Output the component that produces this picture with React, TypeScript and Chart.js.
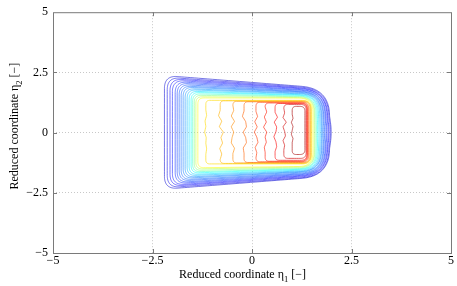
import { useEffect, useRef } from "react";
import { Chart, registerables } from "chart.js";
Chart.register(...registerables);

// ---- axes ----
const tickValues = [-5, -2.5, 0, 2.5, 5];
const tickLabels = ["−5", "−2.5", "0", "2.5", "5"];
const xTitleParts = ["Reduced coordinate η", "1", " [−]"];
const yTitleParts = ["Reduced coordinate η", "2", " [−]"];

// ---- outer band of contours (low levels, blue -> yellow) ----
const bandLevels = [0.08, 0.1, 0.12, 0.14, 0.16, 0.18, 0.2, 0.22, 0.24, 0.26, 0.3, 0.34, 0.38, 0.44, 0.5, 0.56, 0.62];
const bandLeft = [-2.2, -2.13, -2.06, -2.0, -1.93, -1.88, -1.83, -1.78, -1.73, -1.68, -1.63, -1.58, -1.53, -1.49, -1.45, -1.41, -1.36];
const bandRight = [1.95, 1.93, 1.9, 1.88, 1.85, 1.83, 1.8, 1.78, 1.75, 1.73, 1.7, 1.67, 1.64, 1.61, 1.58, 1.56, 1.53];
const bandTopLeft = [2.37, 2.3, 2.24, 2.18, 2.12, 2.06, 2.0, 1.94, 1.89, 1.83, 1.78, 1.72, 1.67, 1.61, 1.55, 1.49, 1.44];
const bandTopRight = [1.83, 1.8, 1.77, 1.75, 1.72, 1.7, 1.67, 1.65, 1.63, 1.6, 1.58, 1.55, 1.53, 1.5, 1.48, 1.45, 1.43];
const bandBottomLeft = [-2.35, -2.29, -2.23, -2.18, -2.12, -2.07, -2.01, -1.96, -1.9, -1.85, -1.79, -1.74, -1.68, -1.63, -1.57, -1.51, -1.46];
const bandBottomRight = [-1.81, -1.79, -1.76, -1.73, -1.71, -1.68, -1.66, -1.63, -1.6, -1.58, -1.56, -1.53, -1.5, -1.48, -1.45, -1.42, -1.4];

// ---- inner contours (high levels, yellow -> dark red) ----
const innerLevels = [0.66, 0.7, 0.74, 0.78, 0.82, 0.85, 0.88, 0.92, 0.96];
const innerLeft = [-1.16, -0.8, -0.48, -0.2, 0.1, 0.33, 0.58, 0.8, 1.01];
const innerRight = [1.49, 1.48, 1.46, 1.43, 1.41, 1.39, 1.38, 1.36, 1.33];
const innerTop = [1.34, 1.32, 1.3, 1.28, 1.26, 1.23, 1.21, 1.17, 1.09];
const innerBottom = [-1.3, -1.28, -1.26, -1.24, -1.21, -1.19, -1.15, -1.07, -0.91];
// left-edge wiggles (x offsets, top -> bottom)
const innerWiggle = [
  [0, 0.02, -0.02, 0, -0.03, 0.01, 0, 0.02, 0],
  [0, -0.04, 0.04, -0.02, 0.08, 0.02, 0.06, -0.01, 0.04],
  [0.02, -0.04, 0.04, -0.04, 0.02, -0.02, -0.04, 0.04, 0],
  [0, -0.04, 0.04, 0.06, -0.02, 0.04, 0.06, -0.02, 0],
  [0, 0.04, -0.03, 0.03, -0.04, 0.02, 0.05, -0.02, 0.02],
  [0.04, -0.02, 0.03, -0.04, 0.04, 0, 0.03, -0.02, 0],
  [0, 0.06, -0.02, 0.04, 0.02, -0.03, 0.02, 0.04, 0],
  [0.02, -0.02, 0.06, -0.02, 0.02, 0.04, -0.02, 0.02, 0],
  [0, 0.02, -0.02, 0.02, 0, -0.02, 0.02, 0, 0],
];

const PXX = 39.8;
const PXY = 24.3;

function jet(t: number, a: number) {
  const c = (v: number) => Math.max(0, Math.min(1, v));
  const r = c(1.5 - Math.abs(4 * t - 3));
  const g = c(1.5 - Math.abs(4 * t - 2));
  const b = c(1.5 - Math.abs(4 * t - 1));
  return `rgba(${Math.round(r * 255)},${Math.round(g * 255)},${Math.round(b * 255)},${a})`;
}

type P = { x: number; y: number };

function shape(L: number, R: number, Tl: number, Tr: number, Bl: number, Br: number, rl: number, rr: number, bulge: number, wig?: number[]): P[] {
  const V: P[] = [
    { x: L, y: Bl },
    { x: L, y: Tl },
    { x: R, y: Tr },
    { x: R, y: Br },
  ];
  const rad = [rl, rl, rr, rr];
  const toward = (a: P, b: P, r: number): P => {
    const dx = (b.x - a.x) * PXX;
    const dy = (b.y - a.y) * PXY;
    const len = Math.hypot(dx, dy);
    const t = Math.min(r / len, 0.48);
    return { x: a.x + (b.x - a.x) * t, y: a.y + (b.y - a.y) * t };
  };
  const As: P[] = [];
  const Bs: P[] = [];
  for (let i = 0; i < 4; i++) {
    As.push(toward(V[i], V[(i + 3) % 4], rad[i]));
    Bs.push(toward(V[i], V[(i + 1) % 4], rad[i]));
  }
  const pts: P[] = [];
  const N = 12;
  for (let i = 0; i < 4; i++) {
    const A = As[i], B = Bs[i], C = V[i];
    for (let k = 0; k <= N; k++) {
      const t = k / N;
      pts.push({
        x: (1 - t) * (1 - t) * A.x + 2 * (1 - t) * t * C.x + t * t * B.x,
        y: (1 - t) * (1 - t) * A.y + 2 * (1 - t) * t * C.y + t * t * B.y,
      });
    }
    if (i === 0 && wig) {
      const y0 = Bs[0].y, y1 = As[1].y;
      const n = wig.length;
      for (let j = 0; j < n; j++) {
        const w = wig[n - 1 - j];
        const f = (j + 1) / (n + 1);
        pts.push({ x: L + w, y: y0 + (y1 - y0) * f });
      }
    }
    if (i === 2 && bulge > 0) {
      const y0 = Bs[2].y, y1 = As[3].y;
      const n = 6;
      for (let j = 1; j < n; j++) {
        const f = j / n;
        pts.push({ x: R + bulge * Math.sin(Math.PI * f), y: y0 + (y1 - y0) * f });
      }
    }
  }
  pts.push({ ...pts[0] });
  return pts;
}

function buildDatasets() {
  const ds: any[] = [];
  const nb = bandLevels.length;
  for (let i = 0; i < nb; i++) {
    const f = i / (nb - 1);
    const rl = 13 - 7 * f;
    const rr = 28 - 14 * f;
    ds.push({
      data: shape(bandLeft[i], bandRight[i], bandTopLeft[i], bandTopRight[i], bandBottomLeft[i], bandBottomRight[i], rl, rr, 0.04 * (1 - f)),
      borderColor: jet(bandLevels[i], 0.6),
    });
  }
  const ni = innerLevels.length;
  for (let i = 0; i < ni; i++) {
    const f = i / (ni - 1);
    ds.push({
      data: shape(innerLeft[i], innerRight[i], innerTop[i], innerTop[i], innerBottom[i], innerBottom[i], 4, 9 - 4 * f, 0, innerWiggle[i]),
      borderColor: jet(innerLevels[i], 0.7),
    });
  }
  return ds.map((d) => ({
    ...d,
    showLine: true,
    borderWidth: 0.9,
    pointRadius: 0,
    pointHoverRadius: 0,
    fill: false,
    tension: 0.05,
    borderJoinStyle: "round",
  }));
}

const labelFor = (v: number) => {
  const i = tickValues.findIndex((t) => Math.abs(t - v) < 1e-9);
  return i >= 0 ? tickLabels[i] : "";
};

const FONT = '"Liberation Serif", "Times New Roman", serif';

const framePlugin = {
  id: "frame",
  afterDraw(chart: any) {
    const ctx = chart.ctx as CanvasRenderingContext2D;
    const { left, top, right, bottom } = chart.chartArea;
    const xs = chart.scales.x;
    const ys = chart.scales.y;
    ctx.save();
    ctx.strokeStyle = "#7a7a7a";
    ctx.lineWidth = 1;
    ctx.strokeRect(left + 0.5, top + 0.5, right - left, bottom - top);
    ctx.beginPath();
    for (const v of tickValues) {
      if (Math.abs(v) === 5) continue;
      const px = Math.round(xs.getPixelForValue(v)) + 0.5;
      ctx.moveTo(px, bottom);
      ctx.lineTo(px, bottom - 4);
      ctx.moveTo(px, top);
      ctx.lineTo(px, top + 4);
      const py = Math.round(ys.getPixelForValue(v)) + 0.5;
      ctx.moveTo(left, py);
      ctx.lineTo(left + 4, py);
      ctx.moveTo(right, py);
      ctx.lineTo(right - 4, py);
    }
    ctx.stroke();

    ctx.fillStyle = "#000";
    const drawParts = (parts: string[], cx: number, base: number) => {
      ctx.font = `12px ${FONT}`;
      const w0 = ctx.measureText(parts[0]).width;
      const w2 = ctx.measureText(parts[2]).width;
      ctx.font = `8.5px ${FONT}`;
      const w1 = ctx.measureText(parts[1]).width;
      const total = w0 + w1 + w2;
      let x = cx - total / 2;
      ctx.textBaseline = "alphabetic";
      ctx.textAlign = "left";
      ctx.font = `12px ${FONT}`;
      ctx.fillText(parts[0], x, base);
      x += w0;
      ctx.font = `8.5px ${FONT}`;
      ctx.fillText(parts[1], x, base + 3.5);
      x += w1;
      ctx.font = `12px ${FONT}`;
      ctx.fillText(parts[2], x, base);
    };
    drawParts(xTitleParts, (left + right) / 2 - 9.5, 278);
    ctx.translate(18, (top + bottom) / 2 - 6.5);
    ctx.rotate(-Math.PI / 2);
    drawParts(yTitleParts, 0, 0);
    ctx.restore();
  },
};

export default function App() {
  const ref = useRef<HTMLCanvasElement | null>(null);
  useEffect(() => {
    if (!ref.current) return;
    const gridColor = (ctx: any) => (Math.abs(ctx.tick?.value) === 5 ? "rgba(0,0,0,0)" : "#c8c8c8");
    const chart = new Chart(ref.current, {
      type: "scatter",
      data: { datasets: buildDatasets() },
      options: {
        animation: false,
        responsive: false,
        devicePixelRatio: 1,
        layout: { padding: { top: 10, right: 6, left: 0, bottom: 0 } },
        plugins: { legend: { display: false }, tooltip: { enabled: false } },
        events: [],
        scales: {
          x: {
            type: "linear",
            min: -5,
            max: 5,
            afterFit: (s: any) => {
              s.height = 33;
            },
            afterBuildTicks: (s: any) => {
              s.ticks = tickValues.map((v) => ({ value: v }));
            },
            ticks: {
              callback: (v: any) => labelFor(Number(v)),
              font: { family: FONT, size: 12 },
              color: "#000",
              padding: 1,
              maxRotation: 0,
              autoSkip: false,
            },
            grid: { color: gridColor, drawTicks: false, lineWidth: 1 },
            border: { display: false, dash: [1, 2] },
          },
          y: {
            type: "linear",
            min: -5,
            max: 5,
            afterFit: (s: any) => {
              s.width = 53;
            },
            afterBuildTicks: (s: any) => {
              s.ticks = tickValues.map((v) => ({ value: v }));
            },
            ticks: {
              callback: (v: any) => labelFor(Number(v)),
              font: { family: FONT, size: 12 },
              color: "#000",
              padding: 5,
              autoSkip: false,
            },
            grid: { color: gridColor, drawTicks: false, lineWidth: 1 },
            border: { display: false, dash: [1, 2] },
          },
        },
      } as any,
      plugins: [framePlugin],
    });
    return () => chart.destroy();
  }, []);
  return (
    <div style={{ position: "fixed", left: 0, top: 0, width: 457, height: 286, background: "#fff" }}>
      <canvas ref={ref} width={457} height={286} style={{ display: "block", width: 457, height: 286 }} />
    </div>
  );
}
